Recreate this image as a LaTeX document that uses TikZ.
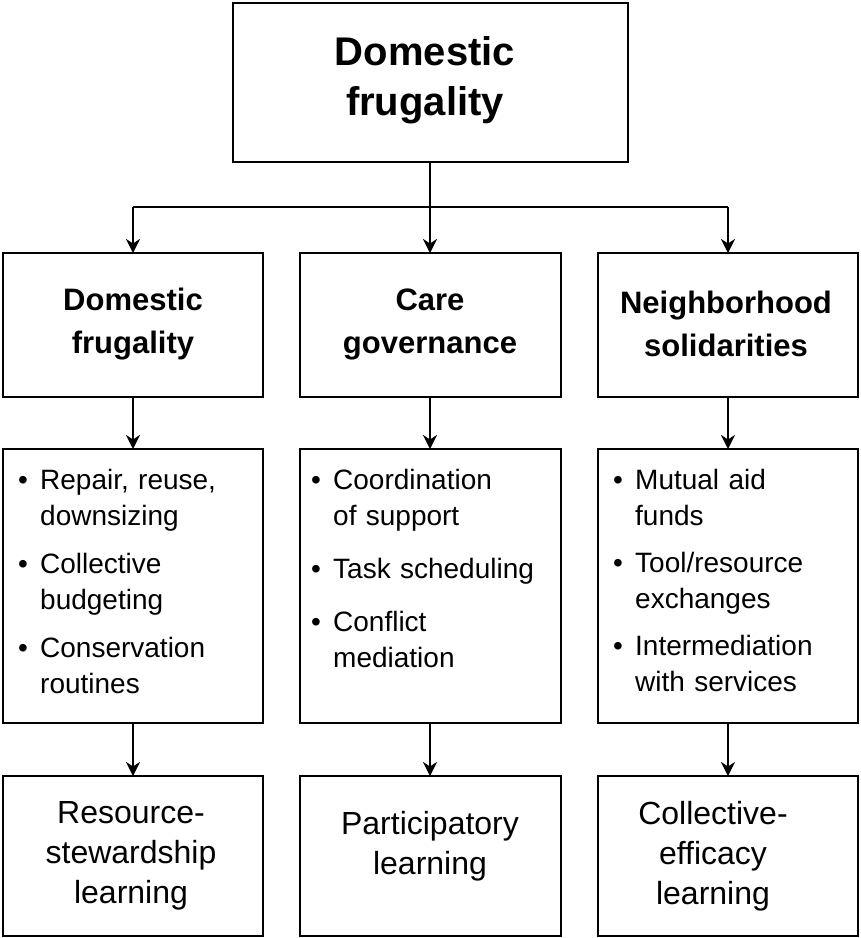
\documentclass[tikz,border=0pt]{standalone}
\usepackage{fontspec}
\setmainfont{Liberation Sans}
\usetikzlibrary{arrows.meta}
\newcommand{\bitem}[1]{\hangindent=22pt\hangafter=1\noindent\makebox[22pt][l]{\textbullet}#1\par}
\begin{document}
\begin{tikzpicture}[x=1pt,y=-1pt,
  box/.style={draw,line width=2.4pt,inner sep=0pt},
  arr/.style={line width=2.4pt,-{Stealth[length=14pt,width=14pt]}},
  head/.style={font=\fontsize{31}{43}\selectfont\bfseries,align=center},
  outc/.style={font=\fontsize{32}{40}\selectfont,align=center},
  lst/.style={font=\fontsize{28}{36}\selectfont,text width=250pt,anchor=north west,inner sep=0pt}]
\useasboundingbox (0,0) rectangle (861,938);
\draw[box] (233,3) rectangle (628,162);
\node[font=\fontsize{40}{50}\selectfont\bfseries,align=center] (top) at (425,80) {Domestic\\frugality};
\coordinate (tb) at (430,162);
\coordinate (j) at (430,207);
\foreach \x/\n in {133/a,430/b,728/c}{
  \coordinate (\n2) at (\x,253);
  \coordinate (\n2b) at (\x,397);
  \coordinate (\n3) at (\x,449);
  \coordinate (\n3b) at (\x,723);
  \coordinate (\n4) at (\x,776);
}
\draw[line width=2.4pt] (tb) -- (j);
\draw[line width=2.4pt] (133,207) -- (728,207);
\draw[arr] (133,207) -- (a2);
\draw[arr] (j) -- (b2);
\draw[arr] (728,207) -- (c2);
\foreach \l/\r/\n in {3/263/a,300/561/b,598/858/c}{
  \draw[box] (\l,253) rectangle (\r,397);
  \draw[box] (\l,449) rectangle (\r,723);
  \draw[box] (\l,776) rectangle (\r,936);
  \draw[arr] (\n2b) -- (\n3);
  \draw[arr] (\n3b) -- (\n4);
}
\node[head] (h1) at (133,324) {Domestic\\frugality};
\node[head] (h2) at (430,324) {Care\\governance};
\node[head] (h3) at (726,324) {Neighborhood\\solidarities};
\node[lst] (l1) at (18,469) {\setlength{\parskip}{12pt}\bitem{Repair, reuse,\newline downsizing}\bitem{Collective\newline budgeting}\bitem{Conservation\newline routines}};
\node[lst] (l2) at (311,469) {\setlength{\parskip}{17pt}\bitem{Coordination\newline of support}\bitem{Task scheduling}\bitem{Conflict\newline mediation}};
\node[lst] (l3) at (613,469) {\setlength{\parskip}{11pt}\bitem{Mutual aid\newline funds}\bitem{Tool/resource\newline exchanges}\bitem{Intermediation\newline with services}};
\node[outc] (o1) at (131,856) {Resource-\\stewardship\\learning};
\node[outc] (o2) at (430,846) {Participatory\\learning};
\node[outc] (o3) at (713,856) {Collective-\\efficacy\\learning};
\end{tikzpicture}
\end{document}
